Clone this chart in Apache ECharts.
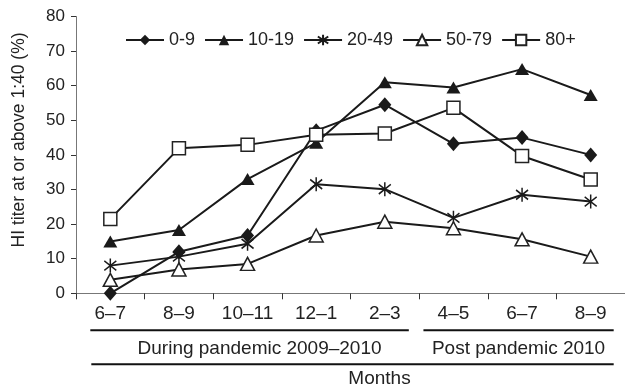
<!DOCTYPE html>
<html>
<head>
<meta charset="utf-8">
<script src="https://cdn.jsdelivr.net/npm/echarts@6/dist/echarts.min.js"></script>
<style>
    html, body { margin: 0; padding: 0; background: #fff; }
    #chart { width: 625px; height: 389px; }
</style>
</head>
<body>
<div id="chart"></div>
<script>
// 横轴月份
var months = ['6–7', '8–9', '10–11', '12–1', '2–3', '4–5', '6–7', '8–9'];

// 各年龄组 HI 滴度 ≥1:40 的比例（%）
var age0to9 = [0, 12.0, 16.7, 47.0, 54.5, 43.2, 45.0, 40.0];
var age10to19 = [15.0, 18.3, 33.0, 43.5, 61.0, 59.5, 64.8, 57.3];
var age20to49 = [8.0, 10.6, 14.3, 31.5, 30.1, 21.8, 28.5, 26.5];
var age50to79 = [3.9, 6.9, 8.5, 16.7, 20.7, 18.8, 15.6, 10.6];
var age80plus = [21.5, 41.9, 42.9, 45.8, 46.2, 53.6, 39.7, 32.9];

// 图例名称
var groupNames = ['0-9', '10-19', '20-49', '50-79', '80+'];

// 纵轴刻度范围
var yMin = 0;
var yMax = 80;
var yStep = 10;

// 时间段分组（类目下标范围）
var periodNames = ['During pandemic 2009–2010', 'Post pandemic 2010'];
var periodFrom = [0, 5];
var periodTo = [4, 7];

(function () {
    var FONT = 'Liberation Sans, Arial, sans-serif';
    var INK = '#1a1a1a';

    // 星号标记（竖线 + 两条斜线）
    var asterisk = 'path://M5,0L5,10M0.8,1.6L9.2,8.4M0.8,8.4L9.2,1.6';

    // 生成折线系列
    function makeSeries(name, data, symbol, size, hollow) {
        return {
            name: name,
            type: 'line',
            data: data,
            symbol: symbol,
            symbolSize: size,
            showAllSymbol: true,
            lineStyle: { color: INK, width: 2 },
            itemStyle: hollow
                ? { color: '#fff', borderColor: '#222', borderWidth: 1.5 }
                : { color: INK, borderColor: INK, borderWidth: symbol === asterisk ? 1.6 : 0 },
            emphasis: { disabled: true },
            animation: false
        };
    }

    var option = {
        animation: false,
        grid: { left: 76, right: -2, top: 16.5, bottom: 95.7 },
        legend: {
            data: groupNames,
            left: 120,
            top: 26,
            itemWidth: 38,
            itemHeight: 13,
            itemGap: 9,
            textStyle: { fontFamily: FONT, fontSize: 18, color: '#222' }
        },
        xAxis: {
            type: 'category',
            data: months,
            boundaryGap: true,
            axisLine: { lineStyle: { color: '#777', width: 1 } },
            axisTick: { show: true, length: 6, interval: 0, lineStyle: { color: '#333' } },
            axisLabel: { interval: 0, margin: 11, fontFamily: FONT, fontSize: 19, color: '#222' }
        },
        yAxis: {
            type: 'value',
            min: yMin,
            max: yMax,
            interval: yStep,
            name: 'HI titer at or above 1:40 (%)',
            nameLocation: 'middle',
            nameGap: 48,
            nameTextStyle: { fontFamily: FONT, fontSize: 17.5, color: '#222', padding: [0, 0, 0, 30] },
            axisLine: { show: true, lineStyle: { color: '#777', width: 1 } },
            axisTick: { show: true, length: 5, lineStyle: { color: '#333' } },
            axisLabel: { margin: 11, fontFamily: FONT, fontSize: 17, color: '#222' },
            splitLine: { show: false }
        },
        series: [
            makeSeries(groupNames[0], age0to9, 'diamond', [13, 15], false),
            makeSeries(groupNames[1], age10to19, 'triangle', [14, 12], false),
            makeSeries(groupNames[2], age20to49, asterisk, [12, 14], false),
            makeSeries(groupNames[3], age50to79, 'triangle', [14, 13], true),
            makeSeries(groupNames[4], age80plus, 'rect', [13, 13], true)
        ]
    };

    var myChart = echarts.init(document.getElementById('chart'));
    myChart.setOption(option);

    // 根据坐标轴换算分组标注的位置
    function catX(i) {
        return myChart.convertToPixel({ xAxisIndex: 0 }, i);
    }
    var baseY = myChart.convertToPixel({ yAxisIndex: 0 }, 0);

    var graphics = [];
    var leftPad = [20, 30];
    var rightPad = [24, 23];
    var textShift = [10, 0];
    for (var i = 0; i < periodNames.length; i++) {
        var x1 = catX(periodFrom[i]) - leftPad[i];
        var x2 = catX(periodTo[i]) + rightPad[i];
        graphics.push({
            type: 'line',
            shape: { x1: x1, y1: baseY + 37, x2: x2, y2: baseY + 37 },
            style: { stroke: '#111', lineWidth: 2 }
        });
        graphics.push({
            type: 'text',
            x: (x1 + x2) / 2 + textShift[i],
            y: baseY + 55,
            style: {
                text: periodNames[i], fill: '#222', font: '19px ' + FONT,
                align: 'center', verticalAlign: 'middle'
            }
        });
    }

    // 总横线和“Months”
    var mx1 = catX(0) - 19;
    var mx2 = catX(months.length - 1) + 23;
    graphics.push({
        type: 'line',
        shape: { x1: mx1, y1: baseY + 71, x2: mx2, y2: baseY + 71 },
        style: { stroke: '#111', lineWidth: 2 }
    });
    graphics.push({
        type: 'text',
        x: (mx1 + mx2) / 2 + 27,
        y: baseY + 85,
        style: {
            text: 'Months', fill: '#222', font: '19px ' + FONT,
            align: 'center', verticalAlign: 'middle'
        }
    });

    myChart.setOption({ graphic: graphics });
})();
</script>
</body>
</html>
